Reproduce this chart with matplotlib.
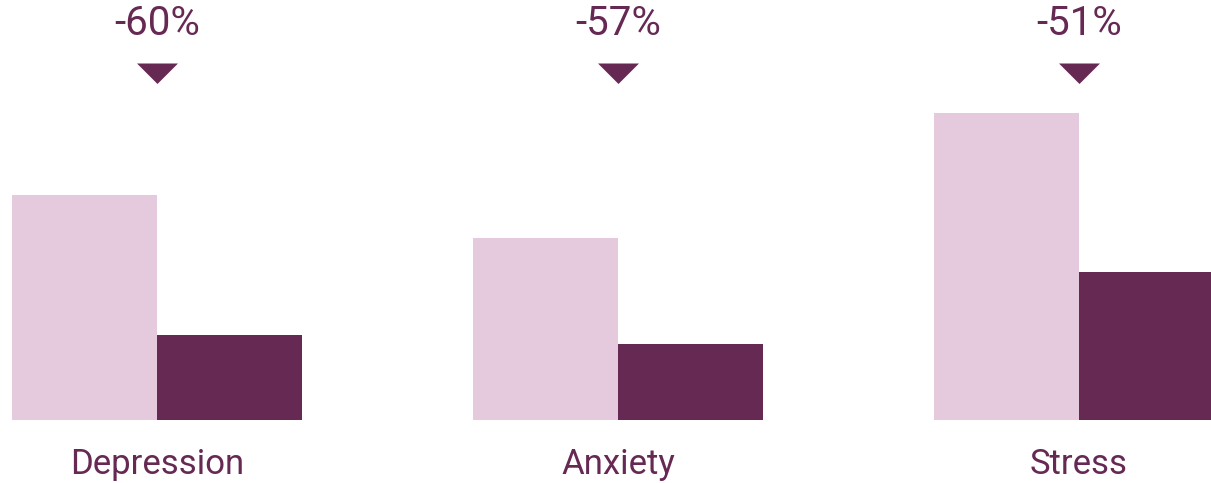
import numpy as np
from matplotlib import pyplot as plt
from matplotlib.transforms import blended_transform_factory

plt.rcParams['font.family'] = ['Roboto', 'DejaVu Sans']

# data
categories = ['Depression', 'Anxiety', 'Stress']
before = [11.25, 9.1, 15.35]
after = [4.25, 3.8, 7.4]
change_labels = ['-60%', '-57%', '-51%']

light = '#e5cadd'
dark = '#662953'

fig = plt.figure(figsize=(12.11, 4.83), dpi=100)
ax = fig.add_axes([0, 0, 1, 1])

x = np.arange(len(categories))
w = 145 / 461

ax.bar(x - w / 2, before, width=w, color=light, linewidth=0)
ax.bar(x + w / 2, after, width=w, color=dark, linewidth=0)

ax.set_xlim(-157 / 461, (1211 - 157) / 461)
ax.set_ylim((420 - 483) / 20, 420 / 20)

trans = blended_transform_factory(ax.transData, ax.transAxes)
for i, lab in enumerate(change_labels):
    ax.text(x[i], 1 - 35 / 483, lab, transform=trans, ha='center', va='baseline',
            fontsize=29, color=dark)
    ax.plot([x[i]], [1 - 63 / 483], transform=trans, linestyle='none',
            marker=[(-1, 0), (1, 0), (0, -1)], markersize=29.5, color=dark,
            markeredgewidth=0)
    ax.text(x[i], 1 - 474 / 483, categories[i], transform=trans, ha='center',
            va='baseline', fontsize=25, color=dark)

ax.axis('off')
fig.savefig('out.png', dpi=100)
